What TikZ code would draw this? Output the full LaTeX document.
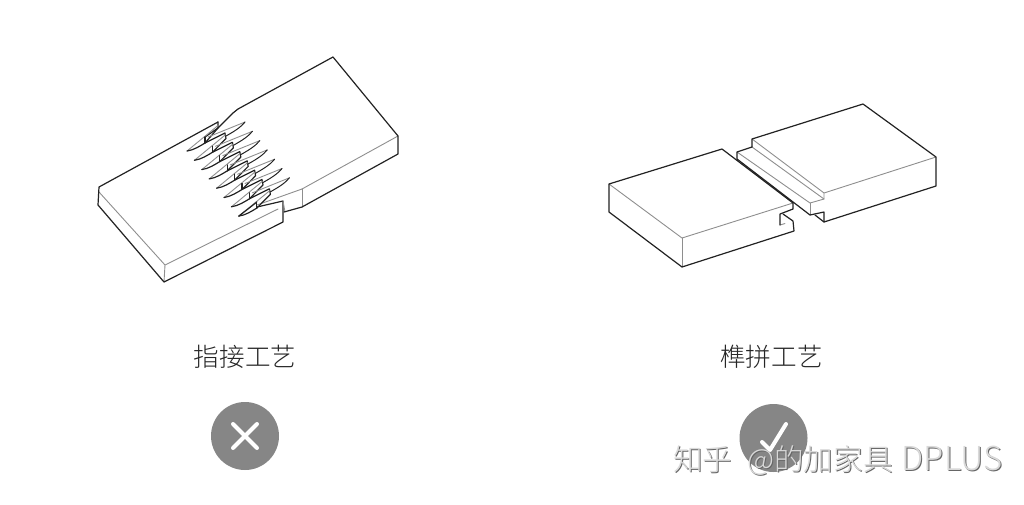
\documentclass[tikz,border=0pt]{standalone}
\usepackage{fontspec}
\newfontfamily\cjk{Noto Sans CJK SC Light}
\definecolor{edgeblack}{HTML}{222222}
\definecolor{edgegray}{HTML}{8E8E8E}
\definecolor{disc}{HTML}{868686}
\tikzset{
 ink/.style={draw=edgeblack,line width=1.2pt,line join=round,line cap=round},
 thin edge/.style={draw=edgegray,line width=.9pt,line join=round,line cap=round},
 caption/.style={font=\cjk\fontsize{25.6}{26}\selectfont,text=black!85,inner sep=0pt},
 markdisc/.style={circle,fill=disc,minimum size=68pt,inner sep=0pt},
 markline/.style={draw=white,line width=4pt,line cap=round,line join=round},
 wm/.style={font=\cjk\fontsize{29.6}{30}\selectfont,inner sep=0pt,anchor=west},
}
\newcommand{\wmtext}{知乎\hspace{15pt}@的加家具\hspace{9pt}{\fontsize{33}{33}\selectfont DPLUS}}
\begin{document}
\begin{tikzpicture}[x=1pt,y=-1pt]
\useasboundingbox (0,0) rectangle (1024,504);
% finger joint: left board
\draw[thin edge] (99,192)--(165,265)--(278,209);
\draw[thin edge] (165,265)--(164,282);
\draw[ink] (218,122)--(99,187)--(98,205)--(164,282)--(283,222)--(283,201)--(257,207);
% finger joint: right board
\draw[thin edge] (302,189)--(398,136);
\draw[thin edge] (302,189)--(302,207);
\draw[thin edge] (302,189)--(257,205);
\draw[thin edge] (283,201)--(285,212);
\draw[ink] (233,113)--(238,109)--(333,57)--(398,136)--(398,154)--(302,207)--(284,212);
\draw[ink] (205,137)--(218,128)--(233,113);
% fingers
\draw[ink] (218,122)--(218,128)--(205,143);
\foreach \k in {0,...,7}{
 \begin{scope}[shift={(7.4*\k,9.3*\k)}]
  \draw[thin edge] (187,151)--(218,125.5);
  \ifnum\k<7
   \draw[thin edge] (208,137)--(245,122);
   \draw[ink,line width=1pt] (245,122) .. controls (241,127) and (235,131) .. (226,136);
  \fi
  \draw[ink] (205,137)--(205,143);
  \ifnum\k<7
   \draw[ink] (187,151) .. controls (194,150) and (200,146) .. (205,143)--(225,133)--(226,138.5)--(212.4,152.3);
  \else
   \draw[ink] (187,151) .. controls (194,150) and (200,146) .. (205,143);
   \draw[ink] (187,151)--(205,137);
  \fi
 \end{scope}
}
% tongue and groove: left block
\draw[thin edge] (609,184)--(682,238)--(793,203);
\draw[thin edge] (682,238)--(682,267);
\draw[thin edge] (780,225)--(785,223.5);
\draw[ink] (793,203)--(722,149)--(609,184)--(609,212)--(682,267)--(794,231)--(793,221)--(783,214);
\draw[ink] (793,203)--(793,209)--(780,214)--(780,225);
% tongue and groove: right block
\draw[thin edge] (936,157)--(824,193)--(752,139);
\draw[thin edge] (824,193)--(824,199)--(810,203)--(737,152);
\draw[thin edge] (824,199)--(752,147);
\draw[thin edge] (810,203)--(810,215);
\draw[ink] (752,147)--(752,139)--(863,104)--(936,157)--(936,186)--(824,222)--(815,215);
\draw[ink] (752,147)--(737,152)--(737,159)--(810,215)--(824,212)--(824,222);
% captions
\node[caption] (capL) at (245,357) {指接工艺};
\node[caption] (capR) at (771.5,357) {榫拼工艺};
% marks
\node[markdisc] (cross) at (245,436) {};
\draw[markline] (233,424)--(257,448) (257,424)--(233,448);
\node[markdisc] (tick) at (773.5,438) {};
\draw[markline] (762,442)--(770,450)--(786,424);
% watermark
\node[wm,text=black!60] (wmS) at (674,461) {\wmtext};
\node[wm,text=white!85!black] (wmT) at (673,460) {\wmtext};
\end{tikzpicture}
\end{document}
